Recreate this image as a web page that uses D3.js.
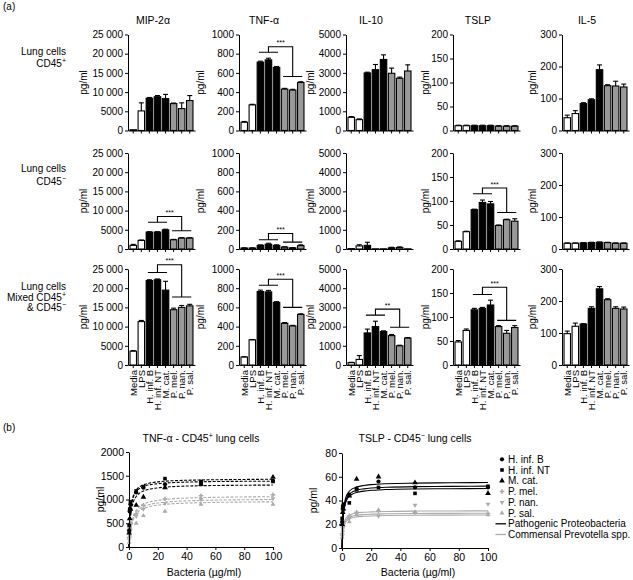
<!DOCTYPE html>
<html><head><meta charset="utf-8">
<script src="https://cdn.jsdelivr.net/npm/d3@7"></script>
<style>body{margin:0;background:#fff}</style>
</head><body>
<script>
// ---------------- DATA ----------------
const categories = ["Media","LPS","H. inf. B","H. inf. NT","M. cat.","P. mel.","P. nan.","P. sal."];
const cytokines = ["MIP-2α","TNF-α","IL-10","TSLP","IL-5"];
const yMaxima = [25000,1000,5000,200,300];
const yTickValues = [
  [0,5000,10000,15000,20000,25000],
  [0,200,400,600,800,1000],
  [0,1000,2000,3000,4000,5000],
  [0,50,100,150,200],
  [0,100,200,300]
];
const rowLabels = [["Lung cells","CD45|+"],["Lung cells","CD45|−"],["Lung cells","Mixed CD45|+","& CD45|−"]];

const cd45posMeans = [
  [200,5100,8400,8800,8300,7000,5700,7800],
  [86,267,712,736,657,431,421,500],
  [685,565,2997,3168,3700,2980,2720,3100],
  [10,10,10,10,10,9,9,9],
  [40,53,84,96,190,140,139,136]
];
const cd45posErrors = [
  [0,2100,200,300,1100,150,1500,1300],
  [8,6,10,17,10,8,8,8],
  [40,40,40,270,240,270,60,320],
  [1,1,1,1,1,1,1,1],
  [8,9,3,3,15,3,15,9]
];
const cd45negMeans = [
  [950,2240,4400,4400,5000,2400,2850,2850],
  [10,10,38,50,38,20,12,35],
  [20,160,190,10,10,60,80,10],
  [16,36,82,97,94,49,61,58],
  [18,18,19,20,21,20,18,18]
];
const cd45negErrors = [
  [250,100,100,100,150,100,100,100],
  [2,2,5,10,5,3,2,8],
  [0,60,160,0,0,30,30,0],
  [1,1,1,5,5,1,1,5],
  [1,1,1,1,1,1,1,1]
];
const mixedMeans = [
  [3600,11300,22000,22200,19500,14400,15000,15400],
  [83,262,765,762,652,434,407,527],
  [120,290,1670,2000,1740,1530,1000,1400],
  [48,72,115,118,125,80,66,78],
  [98,121,128,177,238,204,177,175]
];
const mixedErrors = [
  [150,300,200,200,2300,400,500,400],
  [3,3,15,15,8,8,6,6],
  [20,200,200,280,40,60,30,30],
  [3,3,3,2,10,2,6,4],
  [8,10,1,5,7,3,5,6]
];
// significance brackets: row, column, label, left-group level, top level, right-group level
const sigRows   = [0,1,1,1,2,2,2,2];
const sigCols   = [1,0,1,3,0,1,2,3];
const sigLabels = ["***","***","***","***","***","***","**","***"];
const sigLeft   = [815,6980,97,115,24100,831,2600,147];
const sigTop    = [873,8450,162,127,26100,893,2910,162];
const sigRight  = [562,4740,72,76,17700,600,1970,93];

// panel (b)
const strains = ["H. inf. B","H. inf. NT","M. cat.","P. mel.","P. nan.","P. sal."];
const doses = [0.1,0.5,1,5,10,25,50,100];
const tnfPoints = [
  [350,750,900,1150,1250,1320,1350,1390],
  [450,800,950,1180,1270,1440,1380,1380],
  [300,600,800,880,1050,1250,1320,1470],
  [200,350,500,700,880,1010,1080,1100],
  [150,300,450,650,800,920,1000,1020],
  [100,250,400,500,660,750,900,900]
];
const tslpPoints = [
  [22,33,36,45,50,56,51,51],
  [25,35,37,38,49,51,46,52],
  [20,30,33,44,58,60,55,46],
  [12,18,22,27,30,31,30,29],
  [10,16,20,25,29,27,36,37],
  [9,15,19,22,28,32,30,28]
];
const curveX = [0,0.5,1,2,3,5,7,10,15,20,30,50,75,100];
const tnfCurves = [
  [0,480,720,960,1080,1200,1260,1309,1350,1371,1394,1411,1421,1426],
  [0,467,700,933,1050,1167,1225,1273,1313,1333,1355,1373,1382,1386],
  [0,388,600,825,943,1064,1127,1179,1222,1245,1270,1290,1299,1304],
  [0,216,360,540,648,771,840,900,953,982,1013,1039,1052,1058],
  [0,204,340,510,612,729,793,850,900,927,956,981,993,1000],
  [0,194,323,485,582,693,755,808,856,882,909,933,945,951]
];
const tslpCurves = [
  [0,21.4,30.8,39.6,43.8,47.8,49.8,51.4,52.7,53.4,54.1,54.6,54.9,55.1],
  [0,20.2,29.2,37.5,41.4,45.3,47.1,48.6,49.8,50.5,51.1,51.7,51.9,52.1],
  [0,19.4,28.1,36.1,39.8,43.5,45.3,46.8,47.9,48.6,49.2,49.7,49.9,50.1],
  [0,13.1,18.5,23.3,25.5,27.6,28.6,29.5,30.1,30.4,30.8,31.1,31.2,31.3],
  [0,12.3,17.3,21.9,23.9,25.9,26.8,27.6,28.2,28.5,28.8,29.1,29.2,29.3],
  [0,11.7,16.5,20.7,22.7,24.6,25.5,26.2,26.7,27.0,27.4,27.6,27.7,27.8]
];
const groupLabels = ["Pathogenic Proteobacteria","Commensal Prevotella spp."];

// ---------------- DRAWING ----------------
const FONT = '"Liberation Sans", Arial, Helvetica, sans-serif';
const svg = d3.select("body").append("svg").attr("width",633).attr("height",580)
  .style("font-family",FONT);
const GRAY = "#999";
const LGRAY = "#aaa";
const barFills = ["#fff","#fff","#000","#000","#000",GRAY,GRAY,GRAY];

function styleAxis(sel){
  sel.selectAll("path,line").attr("stroke","#000").attr("stroke-width",1);
  sel.selectAll("text").attr("fill","#000").style("font-family",FONT).style("font-size","10px");
}
function supText(sel, str, fs){
  const parts = str.split("|");
  sel.text(parts[0]);
  if(parts.length>1){
    sel.append("tspan").attr("dy",-4).style("font-size",(fs*0.7)+"px").text(parts[1]);
  }
}

svg.append("text").attr("x",3).attr("y",10).style("font-size","10px").text("(a)");
svg.append("text").attr("x",3).attr("y",431).style("font-size","10px").text("(b)");

const colX = [128,239,346,453,562];
const rowTop = [34.5,153,269];
const plotH = 96, plotW = 67;
const pgOffsets = [41.5,35,32.5,24.5,26.5];
const rowMeans = [cd45posMeans,cd45negMeans,mixedMeans];
const rowErrors = [cd45posErrors,cd45negErrors,mixedErrors];
const fmtTick = v => v>=10000 ? d3.format(",")(v).replace(/,/g," ") : String(v);

// row labels
const rowLabelY = [[54.5,67],[171.5,184.5],[289.5,300.5,311]];
rowLabels.forEach((lines,r)=>{
  lines.forEach((l,k)=>{
    const t = svg.append("text").attr("x",66).attr("y",rowLabelY[r][k])
      .attr("text-anchor","end").style("font-size","10px");
    supText(t,l,10);
  });
});

rowTop.forEach((top,r)=>{
  cytokines.forEach((name,c)=>{
    const x0 = colX[c], bottom = top+plotH;
    const x = d3.scaleBand().domain(categories).range([x0,x0+plotW]).paddingInner(0.2).paddingOuter(0.25);
    const y = d3.scaleLinear().domain([0,yMaxima[c]]).range([bottom,top]);
    const cx = i => x(categories[i]) + x.bandwidth()/2;
    const g = svg.append("g");

    // bars
    const means = rowMeans[r][c], errs = rowErrors[r][c];
    g.selectAll("rect.bar").data(means).join("rect").attr("class","bar")
      .attr("x",(d,i)=>x(categories[i])).attr("y",d=>y(d))
      .attr("width",x.bandwidth()).attr("height",d=>bottom-y(d))
      .attr("fill",(d,i)=>barFills[i]).attr("stroke","#000").attr("stroke-width",1.1);
    // error bars
    means.forEach((m,i)=>{
      if(errs[i]<=0) return;
      g.append("line").attr("x1",cx(i)).attr("x2",cx(i)).attr("y1",y(m)).attr("y2",y(m+errs[i]))
        .attr("stroke","#000").attr("stroke-width",1.1);
      g.append("line").attr("x1",cx(i)-2.5).attr("x2",cx(i)+2.5).attr("y1",y(m+errs[i])).attr("y2",y(m+errs[i]))
        .attr("stroke","#000").attr("stroke-width",1.1);
    });

    // axes
    const ya = g.append("g").attr("transform",`translate(${x0},0)`)
      .call(d3.axisLeft(y).tickValues(yTickValues[c]).tickSize(3).tickSizeOuter(0).tickPadding(2).tickFormat(fmtTick));
    styleAxis(ya);
    const xa = g.append("g").attr("transform",`translate(0,${bottom})`)
      .call(d3.axisBottom(x).tickSize(3).tickSizeOuter(0).tickFormat(r===2?null:""));
    styleAxis(xa);
    if(r===2){
      xa.selectAll("text").attr("transform","rotate(-90)").attr("x",-5).attr("y",0)
        .attr("dy","0.35em").attr("text-anchor","end").style("font-size","9.5px");
    }

    // title
    if(r===0){
      g.append("text").attr("x",x0+25).attr("y",24).attr("text-anchor","middle")
        .style("font-size","10.5px").text(name);
    }
    // y label
    g.append("text").attr("transform",`translate(${x0-pgOffsets[c]},${top+plotH/2}) rotate(-90)`)
      .attr("text-anchor","middle").style("font-size","10px").text("pg/ml");

    // significance
    sigRows.forEach((sr,k)=>{
      if(sr!==r || sigCols[k]!==c) return;
      const yl=y(sigLeft[k]), yt=y(sigTop[k]), yr=y(sigRight[k]);
      g.append("path")
        .attr("d",`M${cx(2)-1.5},${yl}H${cx(4)+1.5}M${cx(3)},${yl}V${yt}H${cx(6)}V${yr}M${cx(5)-1.5},${yr}H${cx(7)+1.5}`)
        .attr("fill","none").attr("stroke","#000").attr("stroke-width",1.1);
      g.append("text").attr("x",(cx(3)+cx(6))/2).attr("y",yt-1.5).attr("text-anchor","middle")
        .style("font-size","7px").text(sigLabels[k]);
    });
  });
});

// ---------------- PANEL B ----------------
const symbols = [d3.symbolCircle,d3.symbolSquare,d3.symbolTriangle,d3.symbolCross,d3.symbolTriangle,d3.symbolTriangle];
const symRot = [0,0,0,0,180,0];
const symSize = [14,13,14,12,10,10];
const strainColor = i => i<3 ? "#000" : LGRAY;

function lineChart(xr, yr, yMax, yTicks, points, curves, dashed, title, labelX){
  const x = d3.scaleLinear().domain([0,100]).range(xr);
  const y = d3.scaleLinear().domain([0,yMax]).range(yr);
  const g = svg.append("g");
  const line = d3.line().x(d=>x(d[0])).y(d=>y(d[1])).curve(d3.curveMonotoneX);
  [3,4,5,0,1,2].forEach(i=>{
    g.append("path").datum(curveX.map((cxv,k)=>[cxv,curves[i][k]])).attr("d",line)
      .attr("fill","none").attr("stroke",strainColor(i)).attr("stroke-width",1.1)
      .attr("stroke-dasharray",dashed?"3,1.5":null);
  });
  [3,4,5,0,1,2].forEach(i=>{
    g.selectAll(null).data(points[i]).join("path")
      .attr("transform",(d,k)=>`translate(${x(doses[k])},${y(d)}) rotate(${symRot[i]})`)
      .attr("d",d3.symbol().type(symbols[i]).size(symSize[i]))
      .attr("fill",strainColor(i));
  });
  const xa = g.append("g").attr("transform",`translate(0,${yr[0]})`)
    .call(d3.axisBottom(x).tickValues([0,20,40,60,80,100]).tickSize(3).tickSizeOuter(0).tickFormat(d3.format("d")));
  styleAxis(xa); xa.selectAll("text").style("font-size","10.5px");
  const ya = g.append("g").attr("transform",`translate(${xr[0]},0)`)
    .call(d3.axisLeft(y).tickValues(yTicks).tickSize(3).tickSizeOuter(0).tickPadding(2).tickFormat(d3.format("d")));
  styleAxis(ya); ya.selectAll("text").style("font-size","10.5px");
  const t = g.append("text").attr("x",(xr[0]+xr[1])/2).attr("y",442).attr("text-anchor","middle")
    .style("font-size","10.5px");
  const tp = title.split("|");
  t.text(tp[0]); t.append("tspan").attr("dy",-4).style("font-size","7px").text(tp[1]);
  t.append("tspan").attr("dy",4).text(tp[2]);
  g.append("text").attr("x",(xr[0]+xr[1])/2+3).attr("y",576).attr("text-anchor","middle")
    .style("font-size","10.5px").text("Bacteria (µg/ml)");
  g.append("text").attr("transform",`translate(${labelX},${(yr[0]+yr[1])/2}) rotate(-90)`)
    .attr("text-anchor","middle").style("font-size","10.5px").text("pg/ml");
}

lineChart([129,273],[547,452],2000,[0,500,1000,1500,2000],tnfPoints,tnfCurves,true,"TNF-α - CD45|+| lung cells",104);
lineChart([342,488],[548,453],80,[0,20,40,60,80],tslpPoints,tslpCurves,false,"TSLP - CD45|−| lung cells",317);

// legend
const legY = [459.3,470,480.8,491.5,502.3,513,523.8,534.5];
strains.forEach((s,i)=>{
  svg.append("path").attr("transform",`translate(502,${legY[i]}) rotate(${symRot[i]})`)
    .attr("d",d3.symbol().type(symbols[i]).size(symSize[i])).attr("fill",strainColor(i));
  svg.append("text").attr("x",508).attr("y",legY[i]).attr("dy","0.35em")
    .style("font-size","10px").text(s);
});
groupLabels.forEach((s,k)=>{
  const yy = legY[6+k];
  svg.append("line").attr("x1",495.5).attr("x2",506).attr("y1",yy).attr("y2",yy)
    .attr("stroke",k===0?"#000":LGRAY).attr("stroke-width",1.3);
  svg.append("text").attr("x",508).attr("y",yy).attr("dy","0.35em")
    .style("font-size","10px").text(s);
});
</script>
</body></html>
